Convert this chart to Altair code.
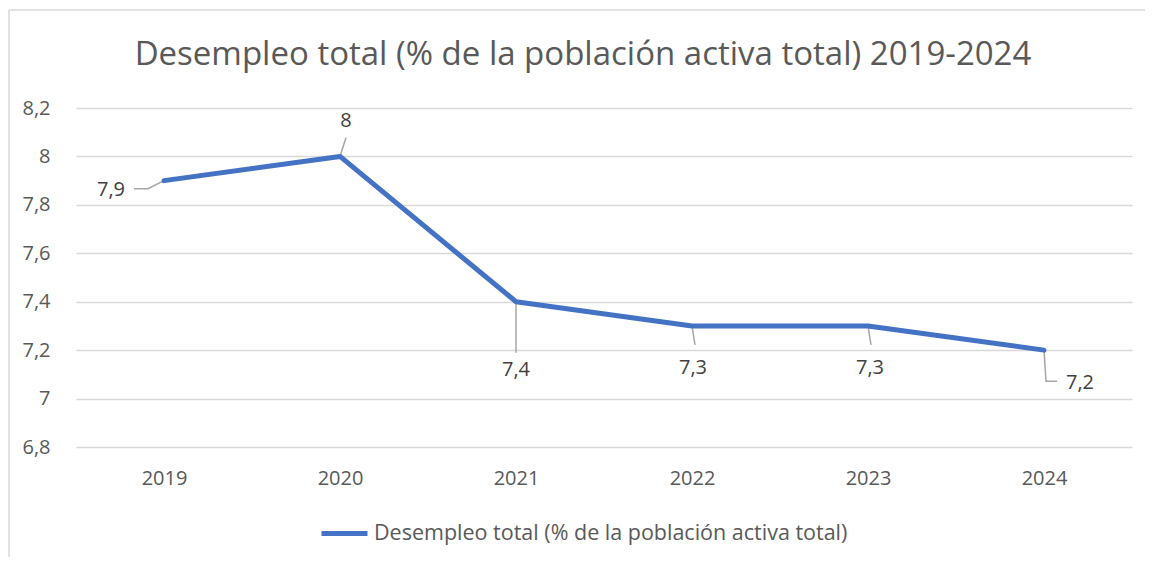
import altair as alt
import pandas as pd

# ---- data ----
years = [2019, 2020, 2021, 2022, 2023, 2024]
values = [7.9, 8.0, 7.4, 7.3, 7.3, 7.2]
series_name = "Desempleo total (% de la población activa total)"
title_text = "Desempleo total (% de la población activa total) 2019-2024"
y_ticks = [6.8, 7.0, 7.2, 7.4, 7.6, 7.8, 8.0, 8.2]

# ---- label layout (pixel offsets from each point) ----
label_dx = [-53, 6, 0, 1, 2, 36]
label_dy = [9, -35, 68, 42, 42, 33]
leader_paths = [
    [(0, 0), (-16, 8), (-30, 8)],
    [(0, 0), (6, -19)],
    [(0, 0), (0, 51)],
    [(0, 0), (3, 19)],
    [(0, 0), (3, 19)],
    [(0, 0), (2, 31), (13, 31)],
]

W, H = 1056, 339
X_DOMAIN = [2018.5, 2024.5]
Y_DOMAIN = [6.8, 8.2]
px_x = W / (X_DOMAIN[1] - X_DOMAIN[0])
px_y = H / (Y_DOMAIN[1] - Y_DOMAIN[0])

FONT = "Open Sans"
GRAY = "#595959"

df = pd.DataFrame({"year": years, "value": values, "serie": series_name})

lab_rows = []
for yr, v, dx, dy in zip(years, values, label_dx, label_dy):
    lab_rows.append({
        "tx": yr + dx / px_x,
        "ty": v - dy / px_y,
        "label": (f"{v:.1f}".rstrip("0").rstrip(".")).replace(".", ","),
    })
df_lab = pd.DataFrame(lab_rows)

lead_rows = []
for i, (yr, v, path) in enumerate(zip(years, values, leader_paths)):
    for j, (ox, oy) in enumerate(path):
        lead_rows.append({"g": i, "o": j, "lx": yr + ox / px_x, "ly": v - oy / px_y})
df_lead = pd.DataFrame(lead_rows)

xscale = alt.Scale(domain=X_DOMAIN, nice=False, zero=False)
yscale = alt.Scale(domain=Y_DOMAIN, nice=False, zero=False)

x_axis = alt.Axis(values=years, format="d", grid=False, domain=False, ticks=False,
                  labelFontSize=20, labelColor=GRAY, labelFont=FONT, labelPadding=21, title=None)
y_axis = alt.Axis(values=y_ticks, format="~g", labelExpr="replace(datum.label, '.', ',')",
                  grid=True, gridColor="#d9d9d9", gridWidth=1.5, domain=False, ticks=False,
                  labelFontSize=20, labelColor=GRAY, labelFont=FONT, labelPadding=26, title=None)

line = alt.Chart(df).mark_line(strokeWidth=5, strokeJoin="round", strokeCap="round").encode(
    x=alt.X("year:Q", scale=xscale, axis=x_axis, title=None),
    y=alt.Y("value:Q", scale=yscale, axis=y_axis, title=None),
    color=alt.Color("serie:N", scale=alt.Scale(range=["#4472C4"]),
                    legend=alt.Legend(orient="none", legendX=243, legendY=400, direction="horizontal",
                                      title=None, symbolType="stroke", symbolSize=2116,
                                      symbolStrokeWidth=5, labelFontSize=21.5, labelColor=GRAY,
                                      labelFont=FONT, labelOffset=4, labelLimit=0)),
)

leaders = alt.Chart(df_lead).mark_line(color="#a6a6a6", strokeWidth=1.5).encode(
    x=alt.X("lx:Q", scale=xscale, title=None),
    y=alt.Y("ly:Q", scale=yscale, title=None),
    detail="g:N",
    order="o:Q",
)

labels = alt.Chart(df_lab).mark_text(fontSize=20, color="#404040", font=FONT,
                                     baseline="middle", align="center").encode(
    x=alt.X("tx:Q", scale=xscale, title=None),
    y=alt.Y("ty:Q", scale=yscale, title=None),
    text="label:N",
)

frame_df = pd.DataFrame({"k": [0]})
frame_top = alt.Chart(frame_df).mark_rule(color="#d9d9d9", strokeWidth=1.5).encode(
    x=alt.value(-67), x2=alt.value(W + 30), y=alt.value(-98))
frame_left = alt.Chart(frame_df).mark_rule(color="#d9d9d9", strokeWidth=1.5).encode(
    x=alt.value(-67), y=alt.value(-98), y2=alt.value(H + 130))

title_df = pd.DataFrame({"t": [title_text]})
title = alt.Chart(title_df).mark_text(fontSize=33, color=GRAY, font=FONT, align="center",
                                      baseline="alphabetic").encode(
    x=alt.value(507), y=alt.value(-43), text="t:N")

chart = alt.layer(frame_top, frame_left, title, leaders, line, labels).properties(
    width=W, height=H,
    padding={"left": 68, "top": 100, "right": 13, "bottom": 110},
    autosize=alt.AutoSizeParams(type="none"),
).configure_view(stroke=None)

chart.save("out.html", embed_options={"renderer": "svg", "actions": False})
